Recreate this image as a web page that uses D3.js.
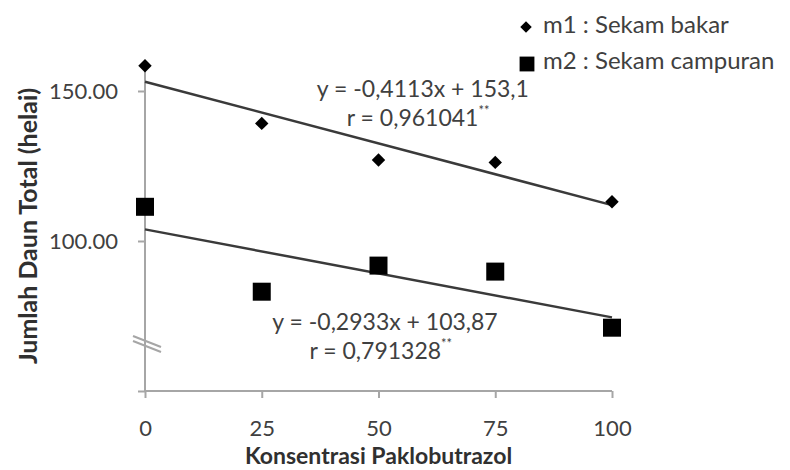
<!DOCTYPE html>
<html>
<head>
<meta charset="utf-8">
<script src="https://cdn.jsdelivr.net/npm/d3@7"></script>
<style>
    body { margin: 0; background: #fff; }
    text { font-family: Lato, "Open Sans", sans-serif; }
</style>
</head>
<body>
<div id="chart"></div>
<script>
//Chart data
var concentrations = [0, 25, 50, 75, 100];
var m1Values = [158.4, 139.2, 127.0, 126.2, 113.1];
var m2Values = [111.4, 83.1, 91.8, 89.8, 71.1];
var seriesNames = ["m1 : Sekam bakar", "m2 : Sekam campuran"];
var trendSlopes = [-0.4113, -0.2933];
var trendIntercepts = [153.1, 103.87];
var equationLabels = ["y = -0,4113x + 153,1", "y = -0,2933x + 103,87"];
var rLabels = ["r = 0,961041", "r = 0,791328"];
var xTickValues = [0, 25, 50, 75, 100];
var yTickValues = [50, 100, 150];

//SVG size
var svgWidth = 790;
var svgHeight = 470;

var svg = d3.select("#chart")
    .append("svg")
    .attr("width", svgWidth)
    .attr("height", svgHeight);

//Scales (y axis is broken, starts at 50)
var xScale = d3.scaleLinear().domain([0, 100]).range([145, 612]);
var yScale = d3.scaleLinear().domain([50, 160]).range([391, 61]);

var axisColor = "#a6a6a6";
var textColor = "#404040";

//x axis
var xAxis = svg.append("g")
    .attr("transform", `translate(0, ${yScale(50)})`)
    .call(d3.axisBottom(xScale).tickValues(xTickValues).tickSize(7).tickPadding(22).tickFormat(d3.format("d")));

//y axis
var yAxis = svg.append("g")
    .attr("transform", `translate(${xScale(0)}, 0)`)
    .call(d3.axisLeft(yScale).tickValues(yTickValues).tickSize(7).tickPadding(20)
        .tickFormat(d => d === 50 ? "" : d3.format(".2f")(d)));

[xAxis, yAxis].forEach(ax => {
    ax.select(".domain").attr("stroke", axisColor).attr("stroke-width", 2);
    ax.selectAll(".tick line").attr("stroke", axisColor).attr("stroke-width", 2);
    ax.selectAll(".tick text")
        .attr("fill", textColor)
        .style("font-size", "22px");
});
xAxis.select(".domain").attr("d", `M${xScale(0)},0H${xScale(100)}`);
yAxis.select(".domain").attr("d", `M0,${yScale(160)}V${yScale(50)}`);

//Axis break marks
var breakY = yScale(66);
[0, 5].forEach(off => {
    svg.append("line")
        .attr("x1", xScale(0) - 12).attr("y1", breakY - 7 + off)
        .attr("x2", xScale(0) + 16).attr("y2", breakY + 4 + off)
        .attr("stroke", axisColor)
        .attr("stroke-width", 2);
});

//Trend lines
trendSlopes.forEach((slope, i) => {
    svg.append("line")
        .attr("x1", xScale(0))
        .attr("y1", yScale(trendIntercepts[i]))
        .attr("x2", xScale(100))
        .attr("y2", yScale(trendIntercepts[i] + slope * 100))
        .attr("stroke", "#3a3a3a")
        .attr("stroke-width", 2.5);
});

//m1 diamonds
var diamond = d3.symbol().type(d3.symbolDiamond2).size(115);
svg.selectAll(".m1")
    .data(concentrations)
    .enter()
    .append("path")
    .attr("class", "m1")
    .attr("d", diamond)
    .attr("transform", (d, i) => `translate(${xScale(d)}, ${yScale(m1Values[i])})`)
    .attr("fill", "#000");

//m2 squares
var square = d3.symbol().type(d3.symbolSquare).size(324);
svg.selectAll(".m2")
    .data(concentrations)
    .enter()
    .append("path")
    .attr("class", "m2")
    .attr("d", square)
    .attr("transform", (d, i) => `translate(${xScale(d)}, ${yScale(m2Values[i])})`)
    .attr("fill", "#000");

//Equation labels
var eqPos = [
    {ex: 59.5, ey: 150, rx: 58.5, ry: 140.3},
    {ex: 51.4, ey: 72.3, rx: 50.5, ry: 62.6}
];
eqPos.forEach((p, i) => {
    svg.append("text")
        .attr("x", xScale(p.ex))
        .attr("y", yScale(p.ey))
        .attr("text-anchor", "middle")
        .attr("dominant-baseline", "middle")
        .attr("fill", textColor)
        .style("font-size", "23px")
        .text(equationLabels[i]);
    var rText = svg.append("text")
        .attr("x", xScale(p.rx))
        .attr("y", yScale(p.ry))
        .attr("text-anchor", "middle")
        .attr("dominant-baseline", "middle")
        .attr("fill", textColor)
        .style("font-size", "23px");
    rText.append("tspan").text(rLabels[i]);
    rText.append("tspan")
        .attr("dy", -8)
        .style("font-size", "13px")
        .text("**");
});

//Legend
var legend = svg.append("g").attr("transform", "translate(526, 27)");
seriesNames.forEach((name, i) => {
    var row = legend.append("g").attr("transform", `translate(0, ${i * 36})`);
    row.append("path")
        .attr("d", i === 0 ? d3.symbol().type(d3.symbolDiamond2).size(85)() : d3.symbol().type(d3.symbolSquare).size(220)())
        .attr("transform", i === 0 ? null : "translate(1, 1)")
        .attr("fill", "#000");
    row.append("text")
        .attr("x", 17)
        .attr("y", 0)
        .attr("dominant-baseline", "middle")
        .attr("fill", textColor)
        .style("font-size", "24px")
        .text(name);
});

//Axis titles
svg.append("text")
    .attr("transform", `translate(31, ${(yScale(50) + yScale(160)) / 2}) rotate(-90)`)
    .attr("text-anchor", "middle")
    .attr("dominant-baseline", "middle")
    .attr("fill", "#303030")
    .style("font-size", "25px")
    .style("font-weight", "bold")
    .text("Jumlah Daun Total (helai)");

svg.append("text")
    .attr("x", (xScale(0) + xScale(100)) / 2)
    .attr("y", 458)
    .attr("text-anchor", "middle")
    .attr("dominant-baseline", "middle")
    .attr("fill", "#303030")
    .style("font-size", "23px")
    .style("font-weight", "bold")
    .text("Konsentrasi Paklobutrazol");
</script>
</body>
</html>
